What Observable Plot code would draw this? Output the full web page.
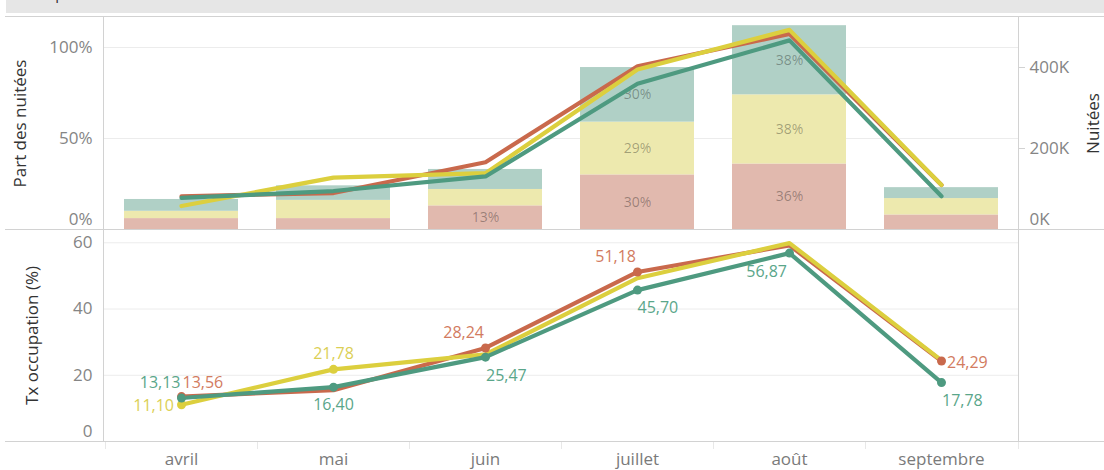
<!DOCTYPE html>
<html><head><meta charset="utf-8">
<script src="https://cdn.jsdelivr.net/npm/d3@7"></script>
<script src="https://cdn.jsdelivr.net/npm/@observablehq/plot@0.6"></script>
<style>
body{margin:0;background:#fff;font-family:"Open Sans",sans-serif;}
#root{position:relative;width:1104px;height:470px;overflow:hidden;background:#fff;}
.layer{position:absolute;left:0;}
.hl{position:absolute;height:1px;background:#d2d2d2;}
.vl{position:absolute;width:1px;background:#d2d2d2;}
.hdr{position:absolute;left:6px;top:0;width:1098px;height:13px;background:#e6e6e6;overflow:hidden;}
.hdr span{position:absolute;left:14px;top:-14px;font-size:15px;line-height:15px;color:#333;white-space:nowrap;}
</style></head><body><div id="root"><div class="hdr"><span>Occupation</span></div></div>
<script>
// ---- data ----
const months = ["avril","mai","juin","juillet","août","septembre"];
const seriesKeys = ["rouge","jaune","vert"];
// Part des nuitées (%), stacked bars
const shareRed    = [6, 6, 13, 30, 36, 8];
const shareYellow = [4, 10, 9, 29, 38, 9];
const shareGreen  = [6.5, 8, 11, 30, 38, 6];
// Nuitées (lines, right axis)
const nuitRed    = [82000, 90000, 166000, 403000, 483000, 110000];
const nuitYellow = [58000, 128000, 139000, 395000, 493000, 110000];
const nuitGreen  = [78000, 95000, 131000, 360000, 467000, 82000];
// Taux d'occupation (%)
const occRed    = [13.56, 15.5, 28.24, 51.18, 59.2, 24.29];
const occYellow = [11.10, 21.78, 26.3, 49.3, 59.9, 24.5];
const occGreen  = [13.13, 16.40, 25.47, 45.70, 56.87, 17.78];
// ticks
const shareTicks = [0, 50, 100];
const nuitTicks = [0, 200000, 400000];
const occTicks = [0, 20, 40, 60];

// ---- styles ----
const lineColors = {rouge:"#c9694c", jaune:"#dccf3e", vert:"#4e9a80"};
const barColors  = {rouge:"#e1b9ae", jaune:"#ede9ae", vert:"#b0d0c6"};
const labelColors= {rouge:"#d27b60", jaune:"#dbcf55", vert:"#5aa68a"};
const labelPlacement = {
  "rouge|avril": {dx:1, dy:-14, anchor:"start"},
  "vert|avril": {dx:-1, dy:-15.5, anchor:"end"},
  "jaune|avril": {dx:-7.5, dy:1.5, anchor:"end"},
  "jaune|mai": {dx:0, dy:-15.5, anchor:"middle"},
  "vert|mai": {dx:0, dy:17.5, anchor:"middle"},
  "rouge|juin": {dx:-1.5, dy:-15, anchor:"end"},
  "vert|juin": {dx:0.5, dy:19, anchor:"start"},
  "rouge|juillet": {dx:-1.5, dy:-15.5, anchor:"end"},
  "vert|juillet": {dx:0, dy:17.5, anchor:"start"},
  "vert|août": {dx:-2.5, dy:19, anchor:"end"},
  "rouge|septembre": {dx:5.5, dy:1.5, anchor:"start"},
  "vert|septembre": {dx:0.5, dy:18.5, anchor:"start"}
};

const shareBy = {rouge: shareRed, jaune: shareYellow, vert: shareGreen};
const nuitBy  = {rouge: nuitRed, jaune: nuitYellow, vert: nuitGreen};
const occBy   = {rouge: occRed, jaune: occYellow, vert: occGreen};
const rows = by => seriesKeys.flatMap(s => months.map((m, i) => ({month: m, serie: s, value: by[s][i]})));
const shareRows = rows(shareBy), nuitRows = rows(nuitBy), occRows = rows(occBy);

const W = 1104, ML = 103, MR = 86;
const xOpts = {type: "band", domain: months, paddingInner: 0.25, paddingOuter: 0.125, align: 0.5, axis: null};
const baseStyle = {fontFamily: "Open Sans", fontSize: "17px", color: "#808080", background: "transparent", overflow: "visible"};
const tickGray = "#858585";
const root = document.getElementById("root");
function place(svg, top) { svg.classList.add("layer"); svg.style.top = top + "px"; root.appendChild(svg); }

// ---- top panel: bars ----
const topBars = Plot.plot({
  width: W, height: 212, marginLeft: ML, marginRight: MR, marginTop: 0, marginBottom: 0,
  style: baseStyle,
  x: xOpts,
  y: {domain: [0, 116.5], axis: null},
  color: {domain: seriesKeys, range: seriesKeys.map(s => barColors[s])},
  marks: [
    Plot.gridY(shareTicks.filter(t => t > 0), {stroke: "#ececec", strokeOpacity: 1}),
    Plot.barY(shareRows, {x: "month", y: "value", fill: "serie", order: seriesKeys}),
    Plot.text(shareRows, Plot.stackY({x: "month", y: "value", z: "serie", order: seriesKeys,
      text: d => d.value >= 12 ? `${d.value}%` : "", fill: "#000", fillOpacity: 0.32, fontSize: 14})),
    Plot.axisY(shareTicks.filter(t => t > 0), {tickSize: 0, tickPadding: 11, tickFormat: d => d + "%", label: null, fill: tickGray}),
    Plot.axisY([0], {tickSize: 0, tickPadding: 11, tickFormat: d => d + "%", label: null, dy: -10, fill: tickGray}),
    Plot.text(["Part des nuitées"], {frameAnchor: "left", dx: -83, rotate: -90, textAnchor: "middle", fill: "#333", fontSize: 17})
  ]
});
place(topBars, 17);

// ---- top panel: nuitées lines (right axis) ----
const kFmt = d => (d / 1000) + "K";
const topLines = Plot.plot({
  width: W, height: 212, marginLeft: ML, marginRight: MR, marginTop: 0, marginBottom: 0,
  style: baseStyle,
  x: xOpts,
  y: {domain: [0, 523500], axis: null},
  color: {domain: seriesKeys, range: seriesKeys.map(s => lineColors[s])},
  marks: [
    Plot.line(nuitRows, {x: "month", y: "value", z: "serie", stroke: "serie", strokeWidth: 4.2}),
    Plot.axisY(nuitTicks.filter(t => t > 0), {anchor: "right", tickSize: 6, tickPadding: 5, stroke: "#d2d2d2", fill: tickGray, tickFormat: kFmt, label: null}),
    Plot.axisY([0], {anchor: "right", tickSize: 0, tickPadding: 11, fill: tickGray, tickFormat: kFmt, label: null, dy: -10}),
    Plot.text(["Nuitées"], {frameAnchor: "right", dx: 75, rotate: -90, textAnchor: "middle", fill: "#333", fontSize: 17})
  ]
});
place(topLines, 17);

// ---- bottom panel: occupation ----
const fmt = v => v.toFixed(2).replace(".", ",");
const labeled = occRows.filter(d => labelPlacement[`${d.serie}|${d.month}`]);
const bottom = Plot.plot({
  width: W, height: 241, marginLeft: ML, marginRight: MR, marginTop: 0, marginBottom: 29,
  style: baseStyle,
  x: xOpts,
  y: {domain: [0, 64], axis: null},
  color: {domain: seriesKeys, range: seriesKeys.map(s => lineColors[s])},
  marks: [
    Plot.gridY(occTicks.filter(t => t > 0), {stroke: "#ececec", strokeOpacity: 1}),
    Plot.line(occRows, {x: "month", y: "value", z: "serie", stroke: "serie", strokeWidth: 4.2}),
    Plot.dot(labeled, {x: "month", y: "value", fill: "serie", r: 4.5}),
    ...labeled.map(d => {
      const p = labelPlacement[`${d.serie}|${d.month}`];
      return Plot.text([d], {x: "month", y: "value", text: v => fmt(v.value), dx: p.dx, dy: p.dy,
        textAnchor: p.anchor, fill: labelColors[d.serie], fontSize: 16});
    }),
    Plot.axisY(occTicks.filter(t => t > 0), {tickSize: 0, tickPadding: 11, label: null, fill: tickGray}),
    Plot.axisY([0], {tickSize: 0, tickPadding: 11, label: null, dy: -10, fill: tickGray}),
    Plot.axisX({tickSize: 0, tickPadding: 11, label: null, fill: "#7a7a7a"}),
    Plot.text(["Tx occupation (%)"], {frameAnchor: "left", dx: -71, rotate: -90, textAnchor: "middle", fill: "#333", fontSize: 17})
  ]
});
place(bottom, 229);

// ---- pane borders (Tableau-like) ----
function hline(x, y, w, c) { const e = document.createElement("div"); e.className = "hl"; e.style.left = x + "px"; e.style.top = y + "px"; e.style.width = w + "px"; if (c) e.style.background = c; root.appendChild(e); }
function vline(x, y, h, c) { const e = document.createElement("div"); e.className = "vl"; e.style.left = x + "px"; e.style.top = y + "px"; e.style.height = h + "px"; if (c) e.style.background = c; root.appendChild(e); }
hline(5, 16, W - 5);
hline(5, 229, W - 5);
hline(5, 441, W - 5);
vline(ML, 16, 441 - 16);
vline(W - MR, 16, 441 - 16);
const xs = bottom.scale("x");
const gap = xs.step - xs.bandwidth;
months.forEach(m => vline(Math.round(xs.apply(m) - gap / 2), 442, 7, "#e8e8e8"));
vline(W - MR, 442, 7, "#e8e8e8");
</script></body></html>
